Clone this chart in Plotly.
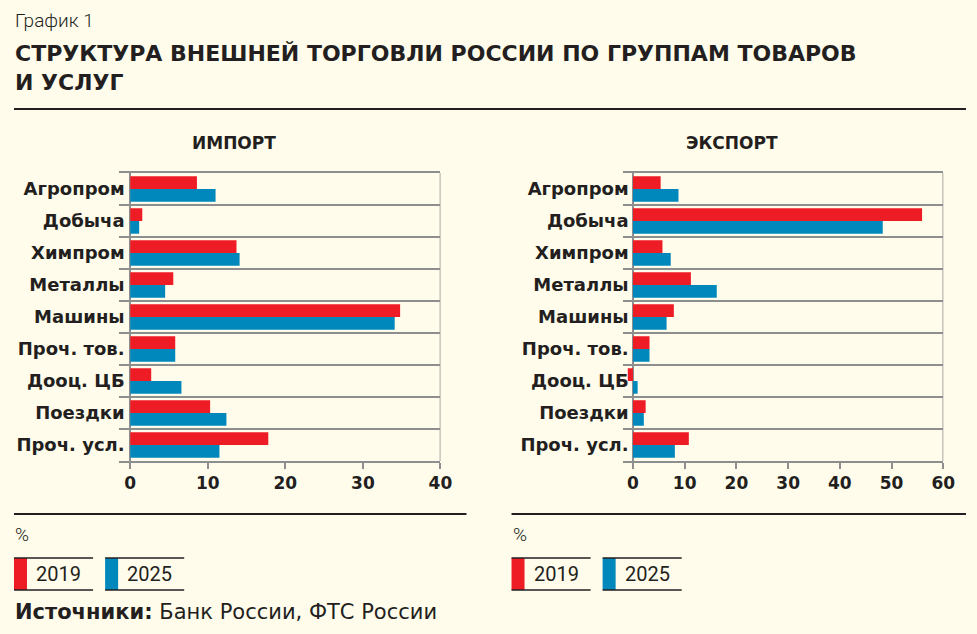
import plotly.graph_objects as go

W, H = 977, 634
FIGW = 990  # page width (compensates horizontal fit of the capture)

categories = ["Агропром", "Добыча", "Химпром", "Металлы", "Машины",
              "Проч. тов.", "Дооц. ЦБ", "Поездки", "Проч. усл."]
years = ["2019", "2025"]
import_2019 = [8.6, 1.55, 13.7, 5.55, 34.8, 5.8, 2.7, 10.3, 17.8]
import_2025 = [11.0, 1.15, 14.1, 4.5, 34.1, 5.8, 6.6, 12.4, 11.5]
export_2019 = [5.35, 55.9, 5.7, 11.2, 7.9, 3.2, -1.0, 2.45, 10.8]
export_2025 = [8.8, 48.3, 7.3, 16.2, 6.5, 3.2, 0.9, 2.1, 8.1]
import_ticks = [0, 10, 20, 30, 40]
export_ticks = [0, 10, 20, 30, 40, 50, 60]

panel_titles = ["ИМПОРТ", "ЭКСПОРТ"]
title_small = "График 1"
title_main = ["СТРУКТУРА ВНЕШНЕЙ ТОРГОВЛИ РОССИИ ПО ГРУППАМ ТОВАРОВ", "И УСЛУГ"]
unit = "%"
source_bold = "Источники:"
source_text = "Банк России, ФТС России"

RED = "#EE1C25"
BLUE = "#0088BD"
BG = "#FFFCEB"
TXT = "#231F20"
GRID = "#8E8E8E"
BOLD = "DejaVu Sans"


def px(x):
    return x / W


def py(y):
    return 1 - y / H


fig = go.Figure()

panels = [
    dict(xa="x", ya="y", vals=(import_2019, import_2025), ticks=import_ticks,
         rng=[-1.5, 40], dom=[px(118.5), px(440)]),
    dict(xa="x2", ya="y2", vals=(export_2019, export_2025), ticks=export_ticks,
         rng=[-2.0, 60], dom=[px(622), px(942.3)]),
]
colors = [RED, BLUE]

for p in panels:
    for yr, v, c in zip(years, p["vals"], colors):
        fig.add_trace(go.Bar(
            x=v, y=categories, orientation="h", name=yr,
            marker=dict(color=c, line=dict(width=0)),
            xaxis=p["xa"], yaxis=p["ya"], showlegend=False,
            hoverinfo="x+y"))

ydom = [py(461), py(173)]
common_x = dict(showgrid=False, zeroline=True, zerolinecolor=GRID, zerolinewidth=1.5,
                showline=True, mirror=True, linecolor=GRID, linewidth=1.5,
                ticks="outside", ticklen=6, tickcolor=GRID, tickwidth=1.5,
                tickfont=dict(family=BOLD, size=17, color=TXT, weight="bold"),
                fixedrange=True)
common_y = dict(type="category", categoryorder="array", categoryarray=categories,
                range=[len(categories) - 0.5, -0.5], tickson="boundaries",
                showgrid=True, gridcolor=GRID, gridwidth=1.5, ticks="",
                showline=False, zeroline=False, domain=ydom,
                tickfont=dict(family=BOLD, size=18, color=TXT, weight="bold"),
                ticklabelstandoff=-7, fixedrange=True)

fig.update_layout(
    width=FIGW, height=H, margin=dict(l=0, r=0, t=0, b=0),
    paper_bgcolor=BG, plot_bgcolor=BG,
    barmode="group", bargap=0.2, bargroupgap=0,
    xaxis=dict(common_x, domain=panels[0]["dom"], range=panels[0]["rng"],
               tickvals=import_ticks, anchor="y"),
    yaxis=dict(common_y, anchor="x"),
    xaxis2=dict(common_x, domain=panels[1]["dom"], range=panels[1]["rng"],
                tickvals=export_ticks, anchor="y2"),
    yaxis2=dict(common_y, anchor="x2"),
)

shapes = []
for p in panels:
    shapes.append(dict(type="line", xref=p["xa"], yref=p["ya"] + " domain",
                       x0=p["rng"][1], x1=p["rng"][1], y0=0, y1=1,
                       line=dict(color=GRID, width=1.5)))

shapes.append(dict(type="line", xref="paper", yref="paper", x0=px(14), x1=px(965),
                   y0=py(109), y1=py(109), line=dict(color=TXT, width=2.2)))
shapes.append(dict(type="line", xref="paper", yref="paper", x0=px(14), x1=px(466),
                   y0=py(514), y1=py(514), line=dict(color=TXT, width=2.2)))
shapes.append(dict(type="line", xref="paper", yref="paper", x0=px(511), x1=px(965),
                   y0=py(514), y1=py(514), line=dict(color=TXT, width=2.2)))

annotations = []
annotations.append(dict(text=title_small, x=px(13), y=py(20), xref="paper", yref="paper",
                        xanchor="left", yanchor="middle", showarrow=False,
                        font=dict(family="Roboto", size=19, color=TXT, weight=300)))
annotations.append(dict(text="<br>".join(title_main), x=px(13), y=py(67.5), xref="paper",
                        yref="paper", xanchor="left", yanchor="middle", align="left",
                        showarrow=False,
                        font=dict(family=BOLD, size=22, color=TXT, weight="bold")))

for t, cx in zip(panel_titles, [234, 731]):
    annotations.append(dict(text=t, x=px(cx), y=py(143), xref="paper", yref="paper",
                            xanchor="center", yanchor="middle", showarrow=False,
                            font=dict(family=BOLD, size=17, color=TXT, weight="bold")))

for lx in [14, 511]:
    annotations.append(dict(text=unit, x=px(lx - 1), y=py(534), xref="paper", yref="paper",
                            xanchor="left", yanchor="middle", showarrow=False,
                            font=dict(family="Roboto", size=19, color=TXT, weight=300)))
    offsets = [0, 91]
    for yr, c, off in zip(years, colors, offsets):
        x0 = lx + off
        shapes.append(dict(type="rect", xref="paper", yref="paper",
                           x0=px(x0), x1=px(x0 + 13), y0=py(590), y1=py(558),
                           fillcolor=c, line=dict(width=0)))
        for yy in (558, 590):
            shapes.append(dict(type="line", xref="paper", yref="paper",
                               x0=px(x0), x1=px(x0 + 79), y0=py(yy), y1=py(yy),
                               line=dict(color=TXT, width=1.3)))
        annotations.append(dict(text=yr, x=px(x0 + 20), y=py(574), xref="paper", yref="paper",
                                xanchor="left", yanchor="middle", showarrow=False,
                                font=dict(family="Roboto", size=20, color=TXT)))

annotations.append(dict(text="<b>" + source_bold + "</b> " + source_text,
                        x=px(13), y=py(612), xref="paper", yref="paper",
                        xanchor="left", yanchor="middle", showarrow=False,
                        font=dict(family="DejaVu Sans", size=21, color=TXT)))

fig.update_layout(shapes=shapes, annotations=annotations)
fig.write_html("out.html",
               config={"displayModeBar": False},
               post_script="document.body.style.margin='0';"
                           "document.body.style.overflow='hidden';"
                           "document.documentElement.style.overflow='hidden';"
                           "document.body.style.background='" + BG + "';")
